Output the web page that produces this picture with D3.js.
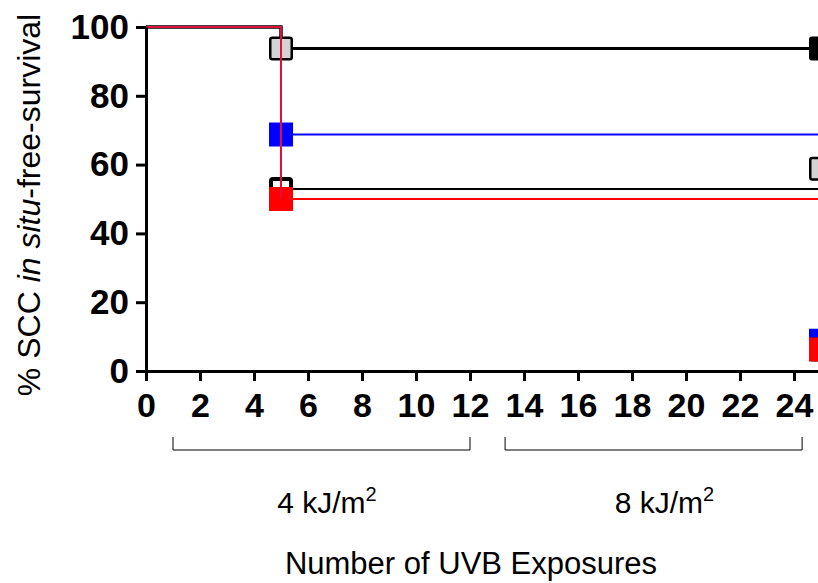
<!DOCTYPE html>
<html>
<head>
<meta charset="utf-8">
<script src="https://cdn.jsdelivr.net/npm/d3@7"></script>
<style>
  html, body { margin: 0; padding: 0; background: #fff; }
  svg { display: block; }
  text { font-family: "Liberation Sans", Arial, sans-serif; }
</style>
</head>
<body>
<svg id="chart" width="818" height="583"></svg>
<script>
// ---- data ----
const xTicks = [0, 2, 4, 6, 8, 10, 12, 14, 16, 18, 20, 22, 24];
const yTicks = [0, 20, 40, 60, 80, 100];
// step survival points after start (0,100)
const blackFilledTimes = [5, 25];
const blackFilledValues = [93.75, 93.75];
const grayTimes = [5, 25];
const grayValues = [93.75, 58.8];
const blueTimes = [5, 25];
const blueValues = [68.75, 8.8];
const openBlackTimes = [5, 25];
const openBlackValues = [52.9, 6.25];
const redTimes = [5, 25];
const redValues = [50, 6.25];
const doseLabels = ["4 kJ/m", "8 kJ/m"];
const doseRanges = [[1, 12], [13.3, 24.3]];
const doseLabelAt = [6.7, 19.2];

const series = [
  { name: "blackFilled", times: blackFilledTimes, values: blackFilledValues, line: "#000", lw: 3, fill: "#000", stroke: "#000", sw: 2, markerAt: [25] },
  { name: "gray", times: grayTimes, values: grayValues, line: "#000", lw: 3, fill: "#d3d3d3", stroke: "#000", sw: 2.5, markerAt: [5, 25] },
  { name: "blue", times: blueTimes, values: blueValues, line: "#0000ff", lw: 2, fill: "#0000ff", stroke: "none", sw: 0, markerAt: [5, 25] },
  { name: "openBlack", times: openBlackTimes, values: openBlackValues, line: "#000", lw: 2, fill: "#fff", stroke: "#000", sw: 4, markerAt: [5, 25] },
  { name: "red", times: redTimes, values: redValues, line: "#ff0000", lw: 2, fill: "#ff0000", stroke: "none", sw: 0, markerAt: [5, 25] }
];

const svg = d3.select("#chart");
const x = d3.scaleLinear().domain([0, 25]).range([146, 821]);
const y = d3.scaleLinear().domain([0, 100]).range([371, 27]);

// lines
const lineGen = d3.line().x(d => x(d[0])).y(d => y(d[1])).curve(d3.curveStepAfter);
series.forEach(s => {
  const pts = [[0, 100]].concat(s.times.map((t, i) => [t, s.values[i]]));
  svg.append("path").attr("d", lineGen(pts))
    .attr("fill", "none").attr("stroke", s.line).attr("stroke-width", s.lw);
});

// markers
const ms = 24;
series.forEach(s => {
  s.times.forEach((t, i) => {
    if (!s.markerAt.includes(t)) return;
    const inset = s.sw / 2;
    svg.append("rect")
      .attr("x", x(t) - ms / 2 + inset).attr("y", y(s.values[i]) - ms / 2 + inset)
      .attr("width", ms - s.sw).attr("height", ms - s.sw)
      .attr("rx", s.sw ? 2 : 0)
      .attr("fill", s.fill).attr("stroke", s.stroke).attr("stroke-width", s.sw);
  });
});
// red vertical / top on top of markers
const red = series[4];
svg.append("path").attr("d", lineGen([[0, 100], [red.times[0], red.values[0]]]))
  .attr("fill", "none").attr("stroke", "#e0103a").attr("stroke-width", 2);

// axes
const yAxis = svg.append("g").attr("transform", `translate(${x(0)},0)`)
  .call(d3.axisLeft(y).tickValues(yTicks).tickSize(10).tickPadding(7).tickSizeOuter(0));
yAxis.select(".domain").attr("stroke-width", 3);
yAxis.selectAll(".tick line").attr("stroke-width", 3);
yAxis.selectAll("text").attr("font-size", 35).attr("font-weight", "bold").attr("fill", "#000")
  .attr("font-family", "Liberation Sans, Arial, sans-serif");

const xAxis = svg.append("g").attr("transform", `translate(0,${y(0)})`)
  .call(d3.axisBottom(x).tickValues(xTicks).tickSize(10).tickPadding(12).tickSizeOuter(0));
xAxis.select(".domain").attr("stroke-width", 3);
xAxis.selectAll(".tick line").attr("stroke-width", 3);
xAxis.selectAll("text").attr("font-size", 34).attr("font-weight", "bold").attr("fill", "#000")
  .attr("font-family", "Liberation Sans, Arial, sans-serif");

// brackets
doseRanges.forEach((r, i) => {
  const x0 = x(r[0]), x1 = x(r[1]);
  svg.append("path").attr("d", `M${x0},437V450H${x1}V437`)
    .attr("fill", "none").attr("stroke", "#000").attr("stroke-width", 1);
  const t = svg.append("text").attr("x", x(doseLabelAt[i])).attr("y", 513)
    .attr("text-anchor", "middle").attr("font-size", 30).attr("fill", "#000");
  t.append("tspan").text(doseLabels[i]);
  t.append("tspan").attr("dy", -12).attr("font-size", 20).text("2");
});

// axis titles
svg.append("text").attr("x", 471).attr("y", 574).attr("text-anchor", "middle")
  .attr("font-size", 31).attr("fill", "#000").text("Number of UVB Exposures");

const yt = svg.append("text").attr("transform", "translate(40,205) rotate(-90)")
  .attr("text-anchor", "middle").attr("font-size", 32).attr("fill", "#000");
yt.append("tspan").text("% SCC ");
yt.append("tspan").attr("font-style", "italic").text("in situ");
yt.append("tspan").text("-free-survival");
</script>
</body>
</html>
